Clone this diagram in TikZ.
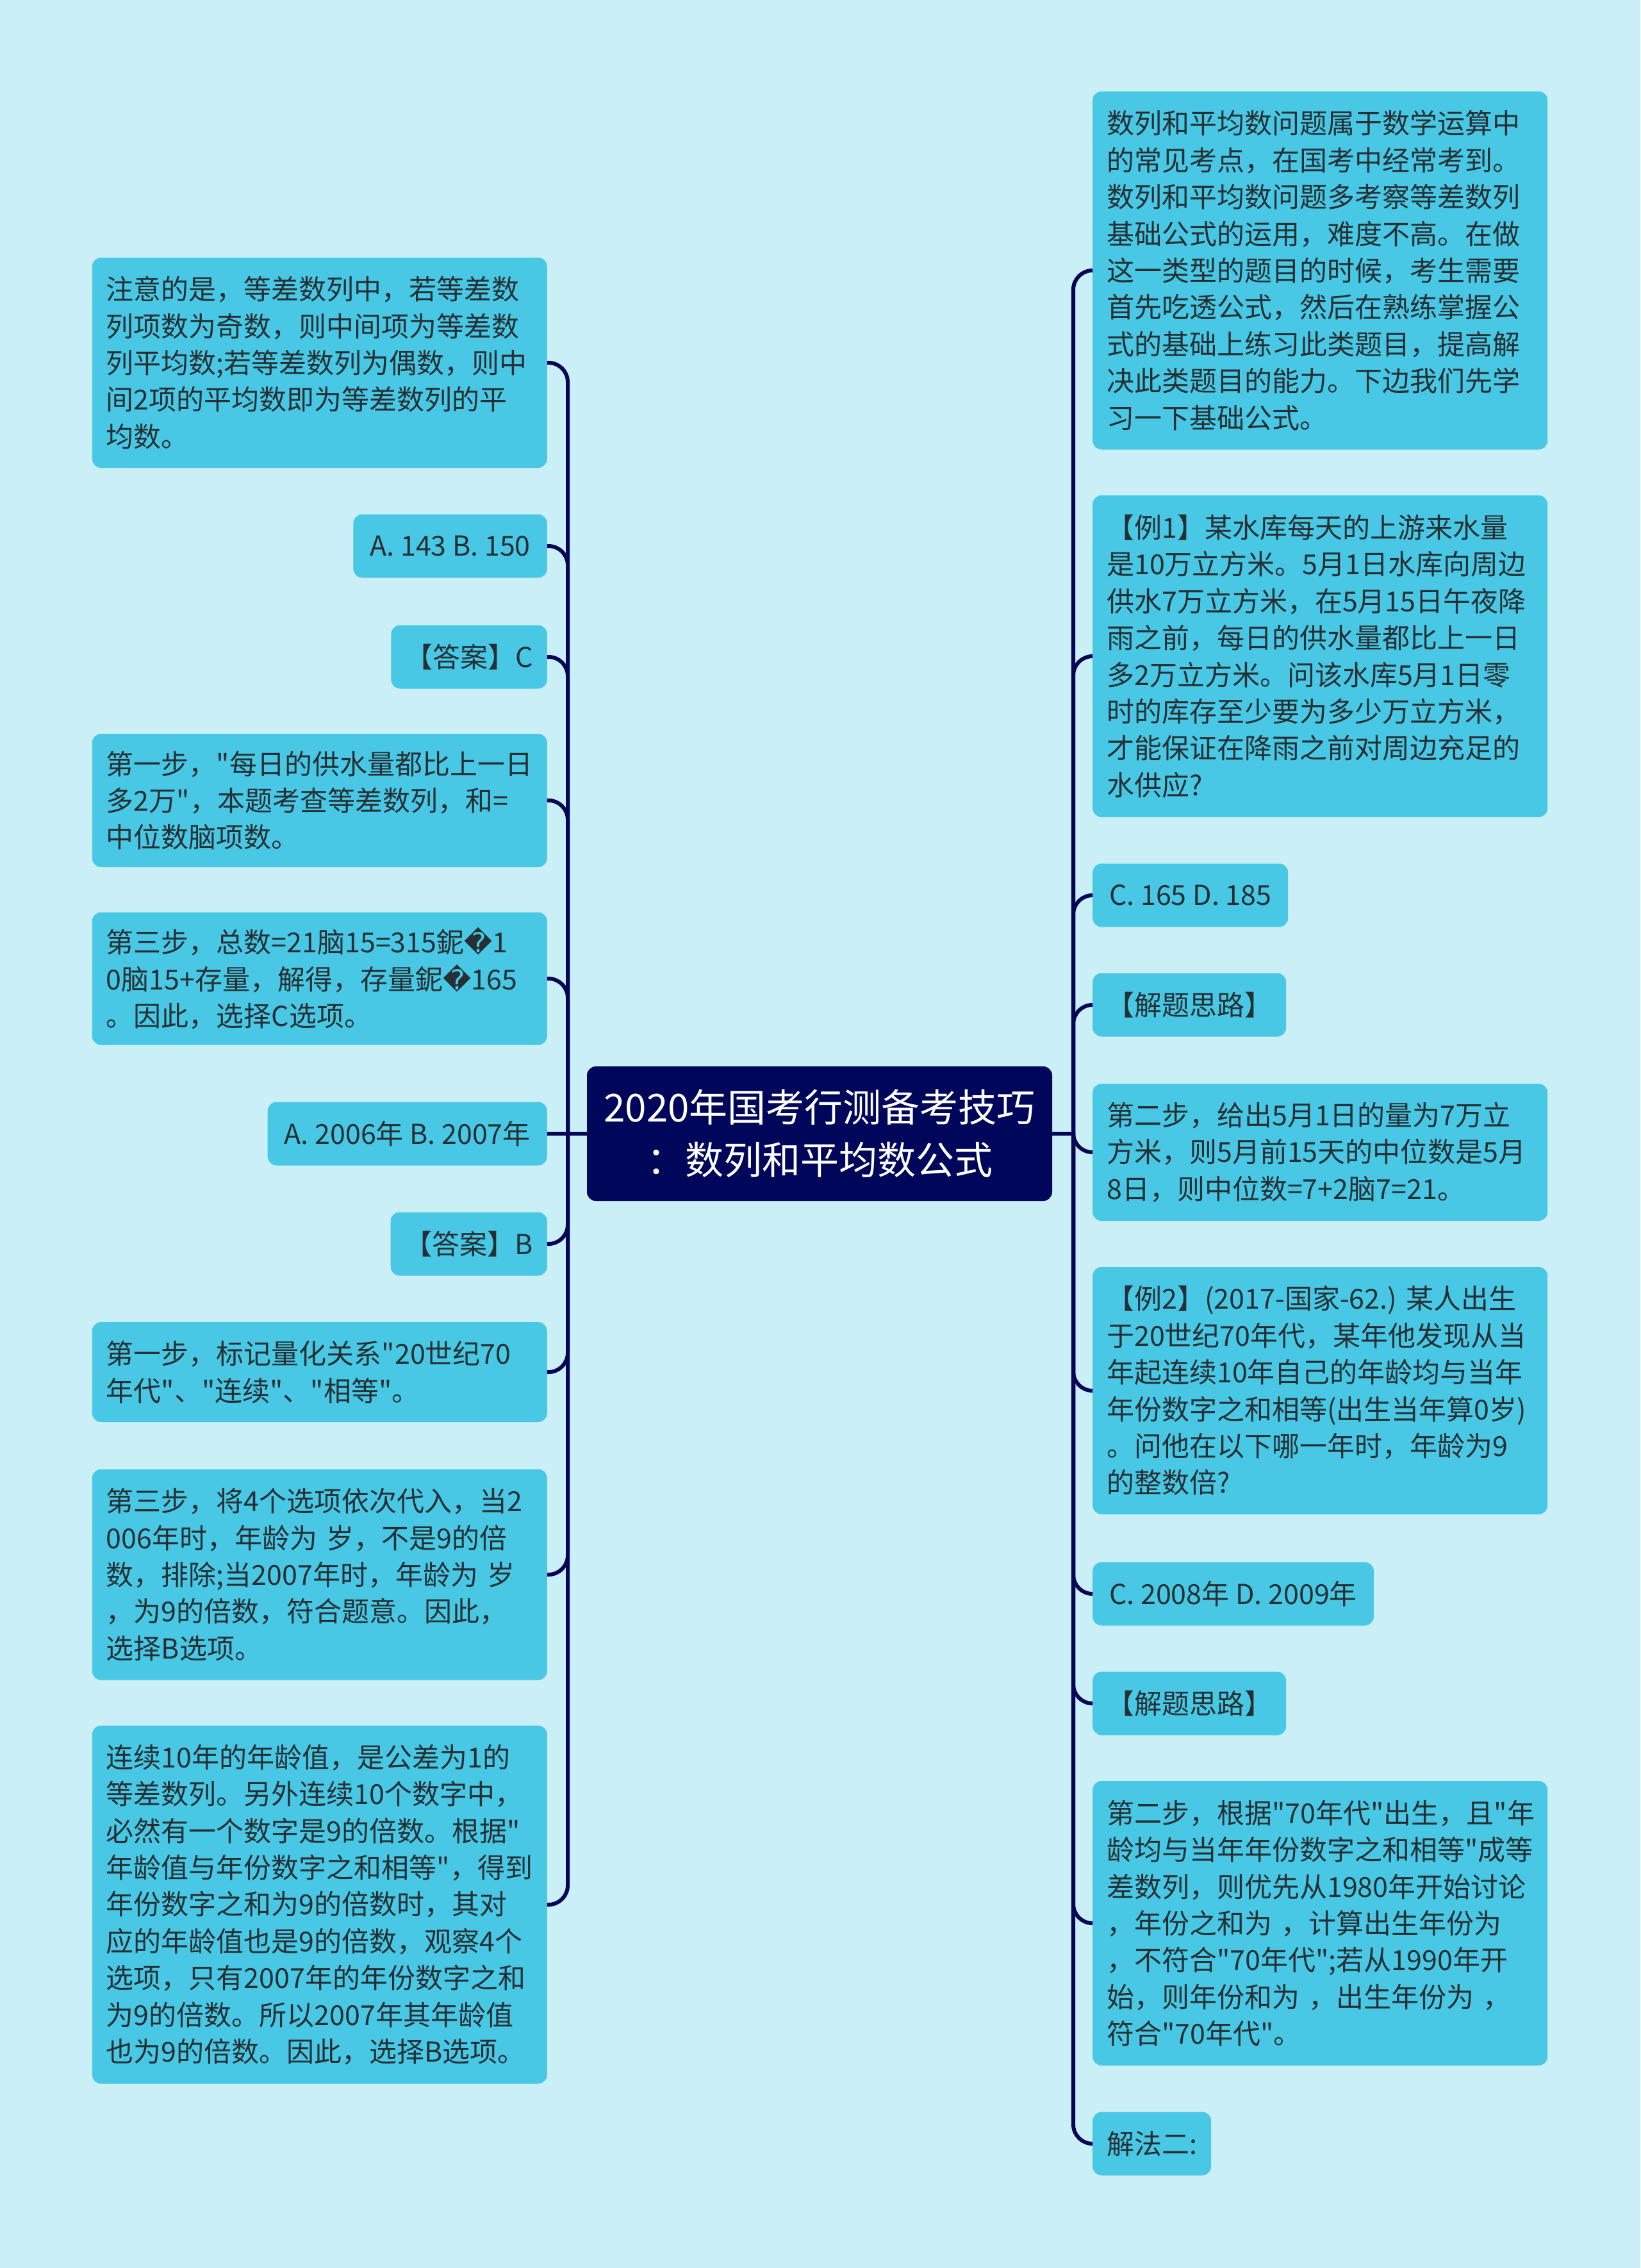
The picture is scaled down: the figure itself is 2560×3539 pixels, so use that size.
\documentclass[tikz,border=0pt]{standalone}
\usepackage{fontspec}
\setmainfont{Noto Sans CJK SC}[Ligatures=TeXOff]
\newfontfamily\djv{DejaVu Sans}
\definecolor{bgc}{RGB}{203,239,247}
\definecolor{boxc}{RGB}{72,200,228}
\definecolor{rootc}{RGB}{0,6,90}
\definecolor{txtc}{RGB}{38,48,52}
\definecolor{connc}{RGB}{5,5,85}
\newcommand{\repch}{{\djv\symbol{"FFFD}}}
\begin{document}
\begin{tikzpicture}[x=1pt,y=-1pt,
  sbox/.style={fill=boxc, rounded corners=14pt, text=txtc, font=\fontsize{43}{57.4}\selectfont, inner xsep=22pt, inner ysep=0pt, minimum height=99pt},
  wbox/.style={sbox, text width=666pt, align=left},
  lbox/.style={sbox, inner xsep=26pt},
  rootbox/.style={fill=rootc, rounded corners=14pt, text=white, font=\fontsize{60}{82}\selectfont, align=center, minimum width=726pt, minimum height=210pt, inner sep=0pt},
  conn/.style={draw=connc, line width=6pt},
  branchline/.style={conn, rounded corners=30pt}]
\fill[bgc] (0,0) rectangle (2560,3539);
\useasboundingbox (0,0) rectangle (2560,3539);

% root
\node[rootbox] (root) at (1279,1769) {2020年国考行测备考技巧\\：数列和平均数公式};
\coordinate (lt) at (886,1769);
\coordinate (rt) at (1675,1769);

% left
\node[wbox, anchor=east, minimum height=328pt] (L1) at (854,566) {注意的是，等差数列中，若等差数\\列项数为奇数，则中间项为等差数\\列平均数;若等差数列为偶数，则中\\间2项的平均数即为等差数列的平\\均数。};
\node[lbox, anchor=east] (L2) at (854,852) {A.~143~B.~150};
\node[sbox, anchor=east] (L3) at (854,1025) {【答案】C};
\node[wbox, anchor=east, minimum height=208pt] (L4) at (854,1249) {第一步，"每日的供水量都比上一日\\多2万"，本题考查等差数列，和=\\中位数脑项数。};
\node[wbox, anchor=east, minimum height=207pt] (L5) at (854,1527) {第三步，总数=21脑15=315鈮\repch1\\0脑15+存量，解得，存量鈮\repch165\\。因此，选择C选项。};
\node[lbox, anchor=east] (L6) at (854,1769) {A.~2006年~B.~2007年};
\node[sbox, anchor=east] (L7) at (854,1941) {【答案】B};
\node[wbox, anchor=east, minimum height=156pt] (L8) at (854,2141) {第一步，标记量化关系"20世纪70\\年代"、"连续"、"相等"。};
\node[wbox, anchor=east, minimum height=329pt] (L9) at (854,2457) {第三步，将4个选项依次代入，当2\\006年时，年龄为~岁，不是9的倍\\数，排除;当2007年时，年龄为~岁\\，为9的倍数，符合题意。因此，\\选择B选项。};
\node[wbox, anchor=east, minimum height=559pt] (L10) at (854,2972) {连续10年的年龄值，是公差为1的\\等差数列。另外连续10个数字中，\\必然有一个数字是9的倍数。根据"\\年龄值与年份数字之和相等"，得到\\年份数字之和为9的倍数时，其对\\应的年龄值也是9的倍数，观察4个\\选项，只有2007年的年份数字之和\\为9的倍数。所以2007年其年龄值\\也为9的倍数。因此，选择B选项。};

% right
\node[wbox, anchor=west, minimum height=559pt] (R1) at (1705,422) {数列和平均数问题属于数学运算中\\的常见考点，在国考中经常考到。\\数列和平均数问题多考察等差数列\\基础公式的运用，难度不高。在做\\这一类型的题目的时候，考生需要\\首先吃透公式，然后在熟练掌握公\\式的基础上练习此类题目，提高解\\决此类题目的能力。下边我们先学\\习一下基础公式。};
\node[wbox, anchor=west, minimum height=502pt] (R2) at (1705,1024) {【例1】某水库每天的上游来水量\\是10万立方米。5月1日水库向周边\\供水7万立方米，在5月15日午夜降\\雨之前，每日的供水量都比上一日\\多2万立方米。问该水库5月1日零\\时的库存至少要为多少万立方米，\\才能保证在降雨之前对周边充足的\\水供应?};
\node[lbox, anchor=west] (R3) at (1705,1397) {C.~165~D.~185};
\node[sbox, anchor=west] (R4) at (1705,1568) {【解题思路】};
\node[wbox, anchor=west, minimum height=214pt] (R5) at (1705,1798) {第二步，给出5月1日的量为7万立\\方米，则5月前15天的中位数是5月\\8日，则中位数=7+2脑7=21。};
\node[wbox, anchor=west, minimum height=386pt] (R6) at (1705,2170) {【例2】(2017-国家-62.)~某人出生\\于20世纪70年代，某年他发现从当\\年起连续10年自己的年龄均与当年\\年份数字之和相等(出生当年算0岁)\\。问他在以下哪一年时，年龄为9\\的整数倍?};
\node[lbox, anchor=west] (R7) at (1705,2487) {C.~2008年~D.~2009年};
\node[sbox, anchor=west] (R8) at (1705,2658) {【解题思路】};
\node[wbox, anchor=west, minimum height=444pt] (R9) at (1705,3001) {第二步，根据"70年代"出生，且"年\\龄均与当年年份数字之和相等"成等\\差数列，则优先从1980年开始讨论\\，年份之和为~，计算出生年份为\\，不符合"70年代";若从1990年开\\始，则年份和为~，出生年份为~，\\符合"70年代"。};
\node[sbox, anchor=west] (R10) at (1705,3345) {解法二:};

% connectors
\draw[conn] (root.west) -- (lt);
\draw[conn] (root.east) -- (rt);
\foreach \n in {L1,L2,L3,L4,L5,L7,L8,L9,L10} {\draw[branchline] (lt) |- (\n.east);}
\draw[conn] (lt) -- (L6.east);
\foreach \n in {R1,R2,R3,R4,R5,R6,R7,R8,R9,R10} {\draw[branchline] (rt) |- (\n.west);}
\end{tikzpicture}
\end{document}
